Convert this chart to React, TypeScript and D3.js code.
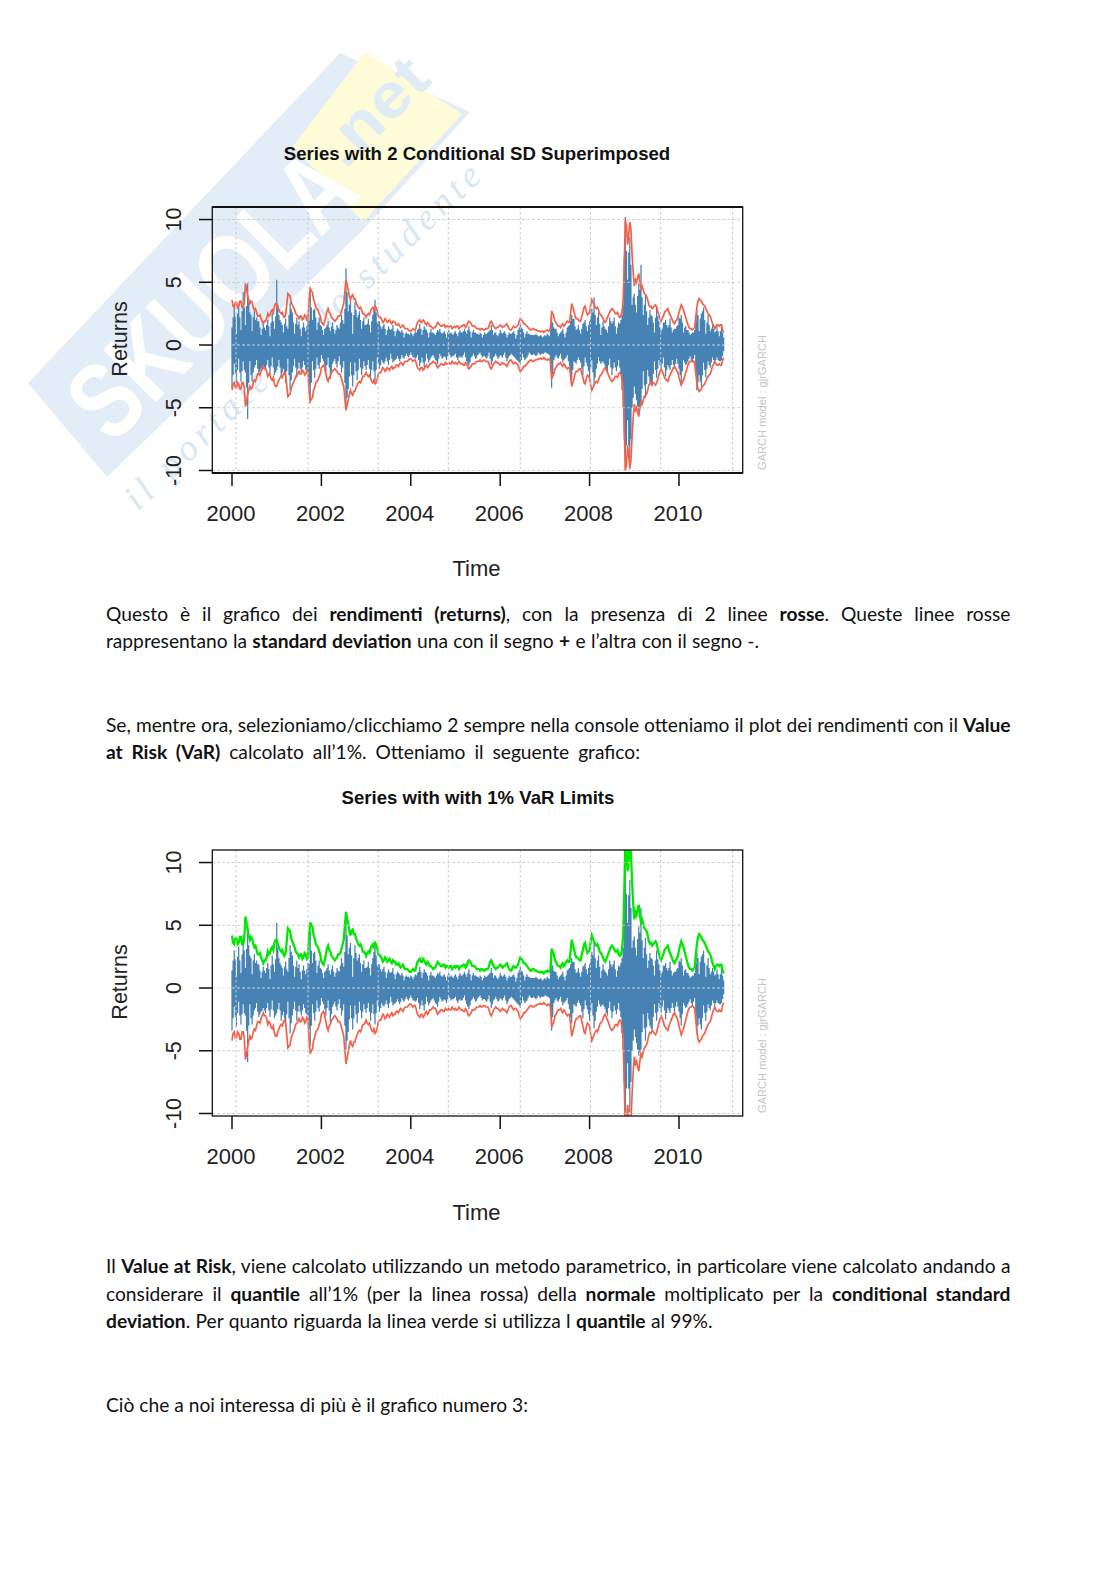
import React, { useLayoutEffect, useRef } from "react";
import * as d3 from "d3";

const startYear = 2000;
const stepPerYear = 40;

// upper band (2 conditional SD), 20 readings a year
const band2sd = [
  3.6,3.0,3.4,3.1,3.5,3.0,4.9,4.0,3.3,3.4,2.8,2.6,2.3,2.1,1.7,1.9,2.5,2.4,2.8,3.1,
  3.3,2.8,2.5,2.3,2.4,4.1,3.9,3.2,2.8,2.4,2.1,2.3,2.1,2.3,2.1,4.5,4.2,3.4,2.9,2.5,
  1.8,1.6,2.3,2.9,2.5,2.1,1.9,2.1,2.3,2.7,3.3,5.2,4.4,3.6,4.0,3.7,3.2,2.9,2.8,2.5,
  2.2,2.5,2.7,3.0,3.1,2.7,2.2,2.0,1.9,2.0,1.9,1.8,1.9,1.8,1.6,1.5,1.5,1.4,1.3,1.2,
  1.1,1.3,1.2,1.8,2.0,1.8,1.9,1.6,1.7,1.5,1.3,1.4,1.8,1.6,1.5,1.6,1.5,1.4,1.5,1.4,
  1.4,1.5,1.4,1.5,1.6,1.5,1.9,1.7,1.5,1.4,1.3,1.2,1.3,1.2,1.3,1.5,1.9,1.5,1.3,1.4,
  1.6,1.4,1.5,1.7,1.3,1.2,1.5,1.4,1.6,2.1,1.9,1.7,1.5,1.3,1.2,1.3,1.2,1.1,1.05,1.1,
  1.1,1.2,1.15,2.7,2.3,1.8,1.5,1.4,1.7,1.6,1.9,1.8,3.3,2.7,2.1,2.0,1.9,2.6,3.1,2.4,
  2.6,3.6,3.2,2.9,2.8,2.4,2.1,1.8,2.2,2.6,2.9,2.7,2.5,2.3,2.3,3.5,10,8,9.8,7.3,
  4.7,5.0,5.7,4.5,4.4,4.0,3.6,3.05,2.9,3.1,3.05,2.4,1.9,2.3,2.7,2.9,2.4,2.0,1.7,2.0,
  2.6,3.2,2.8,2.2,1.6,1.3,1.2,1.4,3.0,3.7,3.5,3.2,2.9,2.5,2.3,1.7,1.3,1.6,1.5,1.6,
  1.0,
];
// readings taken half a step after each of the above
const band2sdBetween = [
  3.1,3.4,3.0,3.5,3.0,3.4,4.5,3.6,3.5,3.0,2.9,2.3,2.4,1.9,1.9,2.1,2.3,2.7,2.6,3.3,
  3.0,2.6,2.6,2.2,3.2,4.0,3.4,3.0,2.5,2.3,2.3,2.0,2.4,2.0,3.6,4.3,3.6,3.0,2.8,2.3,
  1.7,1.9,2.7,2.6,2.2,2.0,2.0,2.3,2.4,3.0,4.3,4.8,3.9,3.9,3.7,3.4,3.0,3.0,2.5,2.4,
  2.4,2.4,2.9,2.8,3.0,2.3,2.2,1.8,2.1,1.8,2.0,1.7,1.8,1.6,1.7,1.4,1.6,1.3,1.3,1.1,
  1.2,1.2,1.5,1.9,1.8,2.0,1.7,1.8,1.5,1.4,1.4,1.6,1.7,1.5,1.6,1.4,1.5,1.5,1.3,1.5,
  1.5,1.3,1.5,1.6,1.4,1.8,1.8,1.5,1.5,1.3,1.3,1.3,1.2,1.3,1.3,1.8,1.7,1.4,1.4,1.5,
  1.5,1.5,1.6,1.5,1.2,1.4,1.4,1.5,1.9,2.0,1.7,1.6,1.4,1.2,1.3,1.2,1.15,1.1,1.1,1.0,
  1.15,1.1,1.3,2.5,1.9,1.6,1.5,1.6,1.5,1.8,1.8,2.5,3.0,2.3,2.1,1.9,2.3,3.0,2.7,2.5,
  3.2,3.4,3.0,3.0,2.5,2.3,1.9,2.0,2.4,2.8,2.8,2.5,2.6,2.2,2.7,6.5,9.5,8.8,9.2,5.8,
  5.2,5.4,5.0,4.7,4.1,3.9,3.2,3.1,3.0,3.2,2.7,2.1,2.1,2.6,2.8,2.6,2.2,1.8,1.9,2.2,
  2.9,3.0,2.5,1.9,1.4,1.3,1.3,2.2,3.5,3.6,3.3,3.1,2.7,2.4,2.0,1.5,1.5,1.6,1.6,1.2,
];

// positive side of the returns
const returnsUp = [
  1.4,3.0,0.9,3.3,1.2,4.2,1.6,4.9,2.6,1.1,2.7,2.2,1.9,0.8,1.7,1.2,2.0,0.7,2.6,1.3,
  5.2,2.4,1.8,1.0,2.1,1.3,3.4,2.6,0.9,2.2,1.9,0.7,1.8,1.1,2.0,4.5,2.0,2.9,1.2,2.2,
  1.5,0.8,1.4,1.9,1.1,1.8,0.9,1.6,1.3,2.4,1.7,6.1,2.7,3.6,0.9,3.4,2.2,2.7,1.3,2.2,
  1.6,2.1,1.0,2.4,3.6,1.8,1.9,1.3,1.7,0.8,1.5,1.2,1.6,0.7,1.3,1.1,1.2,0.6,1.0,0.9,
  1.0,0.7,1.1,1.2,1.7,0.8,1.5,1.2,0.6,1.3,1.0,0.8,1.2,1.3,0.9,1.1,0.6,1.2,1.0,0.8,
  1.1,0.7,1.2,1.0,1.3,0.9,1.5,0.6,1.2,1.0,0.9,1.0,0.6,1.0,0.9,1.1,1.6,0.8,1.0,0.7,
  1.2,0.9,1.1,0.6,1.0,0.9,1.1,0.5,1.2,1.7,1.3,0.6,1.1,0.9,0.8,0.8,0.9,0.7,0.8,0.6,
  0.8,0.9,0.7,2.7,1.4,1.3,0.7,1.0,1.3,0.6,1.4,1.6,2.4,2.1,1.2,1.6,0.9,1.7,2.0,1.1,
  1.9,2.9,3.8,1.6,2.6,0.8,1.9,1.3,1.0,2.2,1.7,2.2,0.9,1.8,2.0,3.2,10.2,5.2,8.6,3.2,
  4.1,2.6,4.9,6.4,2.4,4.0,1.6,2.8,2.3,1.0,3.0,1.9,1.1,1.8,2.0,1.4,2.1,1.0,1.3,1.5,
  2.2,2.4,1.0,1.5,1.2,0.8,1.0,1.2,2.8,1.1,2.5,3.0,0.9,2.4,1.1,1.6,1.0,1.5,0.7,1.5,
  0.6,
];
const returnsUpBetween = [
  2.2,2.3,2.5,2.2,2.7,3.0,3.1,3.4,2.4,2.2,2.0,1.9,1.4,1.3,1.4,1.6,1.5,1.8,1.9,2.3,
  3.2,2.0,1.6,1.7,1.5,2.4,2.9,1.8,1.7,1.6,1.3,1.4,1.4,1.5,1.9,3.0,2.8,2.2,1.8,1.6,
  1.2,1.3,1.6,1.4,1.5,1.3,1.2,1.4,1.8,2.0,2.9,4.2,3.2,2.6,2.4,2.8,2.4,2.0,1.9,1.6,
  1.7,1.6,1.9,2.9,2.6,1.9,1.5,1.5,1.3,1.2,1.3,1.3,1.1,1.1,1.2,1.0,1.0,0.9,0.9,0.8,
  0.9,0.9,1.0,1.3,1.3,1.2,1.3,1.0,1.0,1.0,0.9,1.0,1.1,1.0,1.0,0.9,1.0,0.9,0.9,1.0,
  0.9,1.0,1.0,1.1,1.1,1.2,1.1,1.0,1.0,0.9,0.8,0.9,0.8,0.9,1.0,1.2,1.2,1.0,0.8,0.9,
  1.0,1.0,0.9,0.8,0.9,1.0,0.9,0.8,1.4,1.4,1.0,0.9,0.9,0.8,0.8,0.8,0.8,0.7,0.7,0.7,
  0.7,0.8,1.6,1.8,1.3,1.0,0.9,1.1,0.9,1.0,1.5,1.9,2.1,1.5,1.3,1.2,1.3,1.8,1.5,1.6,
  2.3,2.6,2.4,2.2,1.7,1.4,1.5,1.2,1.5,1.9,1.9,1.5,1.4,1.7,2.4,7.0,7.5,7.4,6.4,3.8,
  3.2,3.9,4.4,3.8,3.2,2.7,2.2,2.4,1.8,2.2,2.3,1.4,1.3,1.8,1.6,1.6,1.4,1.2,1.3,1.6,
  2.1,1.8,1.4,1.2,1.0,0.9,1.0,1.9,2.4,2.1,2.7,2.0,1.8,1.6,1.3,1.3,1.1,1.1,1.1,1.0,
];

// negative side of the returns, as magnitudes
const returnsDown = [
  3.4,1.5,3.1,1.1,2.9,1.3,2.2,5.9,1.3,2.9,1.8,1.2,2.3,1.9,1.6,2.0,1.2,2.3,1.0,2.4,
  2.0,1.2,2.6,1.9,3.0,1.1,3.6,2.2,1.1,2.6,1.4,2.2,1.3,2.0,2.2,4.6,1.3,2.6,1.0,1.9,
  0.8,1.3,2.2,1.0,2.7,1.5,1.1,1.8,0.9,2.2,1.3,4.9,3.5,1.4,3.3,1.4,2.8,1.1,2.4,1.3,
  2.0,1.2,2.6,1.3,2.9,1.0,1.9,1.2,1.5,1.0,1.6,0.7,1.4,1.2,0.9,1.3,0.8,1.1,0.7,1.0,
  0.6,1.0,1.1,0.8,1.7,1.0,1.8,0.7,1.4,1.0,0.8,1.2,1.5,0.7,1.1,0.9,1.2,0.6,1.0,0.9,
  0.7,1.2,0.9,1.0,0.6,1.3,1.7,1.0,0.7,1.1,0.8,0.6,1.0,0.9,1.1,0.6,1.6,1.0,0.7,1.1,
  0.8,1.0,0.6,1.3,0.9,0.7,0.9,1.1,1.3,1.6,0.7,1.2,1.0,0.6,0.8,0.7,0.9,0.6,0.8,0.7,
  0.6,0.7,0.8,3.4,1.2,0.8,1.1,0.7,1.4,1.1,0.8,1.7,2.8,1.3,1.5,1.0,1.4,2.4,1.0,1.7,
  2.6,1.2,3.2,1.9,1.0,1.5,1.3,1.7,2.2,1.1,2.4,1.4,2.1,1.2,2.3,5.0,9.9,6.0,9.9,5.0,
  3.3,4.4,5.4,4.9,2.1,4.2,2.0,3.0,3.3,1.3,2.6,1.2,2.0,1.0,2.5,1.6,2.0,1.2,1.9,1.1,
  1.9,3.0,1.2,1.6,1.3,0.9,1.4,0.8,3.6,2.4,3.3,1.4,2.6,1.3,1.8,1.0,1.4,1.0,1.3,1.2,
  0.5,
];
const returnsDownBetween = [
  2.4,2.3,2.0,2.2,2.1,2.0,3.4,3.0,2.4,2.2,1.6,1.9,2.1,1.8,1.8,1.6,1.8,1.7,1.8,2.2,
  1.7,1.8,2.2,2.4,2.1,2.4,2.8,1.7,1.8,1.9,1.9,1.8,1.6,2.1,3.2,3.0,2.0,1.9,1.6,1.4,
  1.1,1.7,1.6,1.8,2.1,1.3,1.5,1.3,1.6,1.8,3.0,4.2,2.5,2.4,2.4,2.1,2.0,1.8,1.9,1.7,
  1.6,1.9,2.0,2.1,2.0,1.5,1.6,1.4,1.3,1.3,1.2,1.1,1.3,1.1,1.1,1.1,1.0,0.9,0.9,0.8,
  0.8,1.0,1.0,1.2,1.4,1.4,1.3,1.1,1.2,0.9,1.0,1.3,1.1,0.9,1.0,1.0,0.9,0.8,0.9,0.8,
  1.0,1.0,1.0,0.8,1.0,1.5,1.4,0.9,0.9,1.0,0.7,0.8,0.9,1.0,0.9,1.1,1.3,0.9,0.9,1.0,
  0.9,0.8,1.0,1.1,0.8,0.8,1.0,1.2,1.4,1.2,1.0,1.1,0.8,0.7,0.8,0.8,0.8,0.7,0.7,0.7,
  0.6,0.7,2.1,2.3,1.0,1.0,0.9,1.1,1.2,1.0,1.3,2.3,2.0,1.4,1.2,1.2,1.9,1.7,1.4,2.1,
  1.9,2.2,2.6,1.5,1.3,1.4,1.5,2.0,1.6,1.8,1.9,1.8,1.7,1.8,3.6,7.5,8.0,8.0,7.5,4.2,
  3.9,4.9,5.1,3.5,3.2,3.1,2.5,3.2,2.3,2.0,1.9,1.6,1.5,1.8,2.0,1.8,1.6,1.6,1.5,1.5,
  2.4,2.1,1.4,1.5,1.1,1.2,1.1,2.2,3.0,2.9,2.4,2.0,1.9,1.6,1.4,1.2,1.2,1.2,1.3,0.9,
];

const yTicks = [-10, -5, 0, 5, 10];
const xTicks = [2000, 2002, 2004, 2006, 2008, 2010];
const xGridYears = [2000.09, 2001.7, 2003.27, 2004.84, 2006.45, 2008.02, 2009.59, 2011.2];

const ratio99To2sd = 2.326 / 2;

type Run = { t: string; b?: boolean };
const bodyLines: { y: number; width: number; runs: Run[] }[] = [
  { y: 620.5, width: 904.5, runs: [{ t: "Questo è il grafico dei " }, { t: "rendimenti (returns)", b: true }, { t: ", con la presenza di 2 linee " }, { t: "rosse", b: true }, { t: ". Queste linee rosse" }] },
  { y: 647.5, width: 653, runs: [{ t: "rappresentano la " }, { t: "standard deviation", b: true }, { t: " una con il segno " }, { t: "+", b: true }, { t: " e l’altra con il segno -." }] },
  { y: 731.5, width: 904.5, runs: [{ t: "Se, mentre ora, selezioniamo/clicchiamo 2 sempre nella console otteniamo il plot dei rendimenti con il " }, { t: "Value", b: true }] },
  { y: 758.5, width: 534, runs: [{ t: "at Risk (VaR)", b: true }, { t: " calcolato all’1%. Otteniamo il seguente grafico:" }] },
  { y: 1273, width: 904.5, runs: [{ t: "Il " }, { t: "Value at Risk", b: true }, { t: ", viene calcolato utilizzando un metodo parametrico, in particolare viene calcolato andando a" }] },
  { y: 1300.5, width: 904.5, runs: [{ t: "considerare il " }, { t: "quantile", b: true }, { t: " all’1% (per la linea rossa) della " }, { t: "normale", b: true }, { t: " moltiplicato per la " }, { t: "conditional standard", b: true }] },
  { y: 1328, width: 606.5, runs: [{ t: "deviation", b: true }, { t: ". Per quanto riguarda la linea verde si utilizza l " }, { t: "quantile", b: true }, { t: " al 99%." }] },
  { y: 1412, width: 422, runs: [{ t: "Ciò che a noi interessa di più è il grafico numero 3:" }] },
];

const weave = (a: number[], b: number[]) => a.flatMap((v, i) => (i < b.length ? [v, b[i]] : [v]));
const bandSeries = weave(band2sd, band2sdBetween);
const upSeries = weave(returnsUp, returnsUpBetween);
const downSeries = weave(returnsDown, returnsDownBetween);

const yearOf = (i: number) => startYear + i / stepPerYear;
const helv = "'Liberation Sans', Arial, sans-serif";
const gridColor = "#c9c9c9";

function Panel(props: { id: string; top: number; bottom: number; title: string; titleX: number; titleY: number; timeY: number; heavy: boolean; var99: boolean }) {
  const { id, top, bottom, title, titleX, titleY, timeY, heavy, var99 } = props;
  const left = 212.3, right = 742.7;
  const x = d3.scaleLinear().domain([2000, 2010]).range([232, 679]);
  const y = d3.scaleLinear().domain([-10.2, 11]).range([bottom, top]);
  const k = var99 ? ratio99To2sd : 1;
  const upper = d3.line<number>().x((_, i) => x(yearOf(i))).y((d) => y(d * k));
  const lower = d3.line<number>().x((_, i) => x(yearOf(i))).y((d) => y(-d * k));
  const bars = upSeries.map((u, i) => `M${x(yearOf(i))},${y(u)}V${y(-downSeries[i])}`).join("");
  const midY = (top + bottom) / 2;
  return (
    <g>
      <defs>
        <clipPath id={id}><rect x={left} y={top} width={right - left} height={bottom - top} /></clipPath>
      </defs>
      <text x={titleX} y={titleY} textAnchor="middle" dominantBaseline="central" fontFamily={helv} fontWeight="bold" fontSize={18.6} fill="#111">{title}</text>
      <g clipPath={`url(#${id})`}>
        <path d={bars} stroke="steelblue" strokeWidth={1.25} fill="none" />
        <path d={upper(bandSeries) as string} stroke={var99 ? "#00e800" : "#f4614a"} strokeWidth={var99 ? 2.3 : 1.7} fill="none" />
        <path d={lower(bandSeries) as string} stroke="#f4614a" strokeWidth={1.7} fill="none" />
        {xGridYears.map((g) => (
          <line key={g} x1={x(g)} x2={x(g)} y1={top} y2={bottom} stroke={gridColor} strokeWidth={1} strokeDasharray="2.5 2.5" />
        ))}
        {yTicks.map((t) => (
          <line key={t} x1={left} x2={right} y1={y(t)} y2={y(t)} stroke={t === 0 ? "#dfe6ee" : gridColor} strokeWidth={1} strokeDasharray="2.5 2.5" />
        ))}
      </g>
      <rect x={left} y={top} width={right - left} height={bottom - top} fill="none" stroke="#111" strokeWidth={1.3} />
      {heavy && <line x1={left} x2={right} y1={top} y2={top} stroke="#111" strokeWidth={2.2} />}
      {heavy && <line x1={left} x2={right} y1={bottom} y2={bottom} stroke="#111" strokeWidth={2.2} />}
      {yTicks.map((t) => (
        <g key={t}>
          <line x1={199} x2={left} y1={y(t)} y2={y(t)} stroke="#111" strokeWidth={1.5} />
          <text transform={`translate(173.5,${y(t)}) rotate(-90)`} textAnchor="middle" dominantBaseline="central" fontFamily={helv} fontSize={21.5} fill="#222">{t}</text>
        </g>
      ))}
      {xTicks.map((t) => (
        <g key={t}>
          <line x1={x(t)} x2={x(t)} y1={bottom} y2={bottom + 13} stroke="#111" strokeWidth={1.5} />
          <text x={x(t) - 1} y={bottom + 40} textAnchor="middle" dominantBaseline="central" fontFamily={helv} fontSize={22} fill="#222">{t}</text>
        </g>
      ))}
      <text transform={`translate(119.5,${midY - 1}) rotate(-90)`} textAnchor="middle" dominantBaseline="central" fontFamily={helv} fontSize={21.5} fill="#222">Returns</text>
      <text x={476.5} y={timeY} textAnchor="middle" dominantBaseline="central" fontFamily={helv} fontSize={22} fill="#222">Time</text>
      <text transform={`translate(762,${bottom - 3}) rotate(-90)`} fontFamily={helv} fontSize={11.5} fill="#c4c4c4" dominantBaseline="central" textLength={135} lengthAdjust="spacingAndGlyphs">GARCH model : gjrGARCH</text>
    </g>
  );
}

function Watermark() {
  return (
    <g>
      <polygon points="28,383 340,53 470,112 363,230 107,477" fill="#e2edf7" />
      <polygon points="365,52 462,114 363,222 293,146" fill="#fdfbd8" />
      <g transform="translate(112,446) rotate(-45)">
        <text fontFamily={helv} fontWeight="bold" fontSize={108} fill="#ffffff" textLength={355} lengthAdjust="spacingAndGlyphs">SKUOLA</text>
      </g>
      <g transform="translate(345,170) rotate(-45)">
        <text fontFamily={helv} fontWeight="bold" fontSize={62} fill="#dfecf6" textLength={125} lengthAdjust="spacingAndGlyphs">.net</text>
      </g>
      <g transform="translate(138,512) rotate(-44)">
        <text fontFamily="'Liberation Serif', serif" fontStyle="italic" fontSize={37} fill="#d8e7f4" textLength={480}>il portale dello studente</text>
      </g>
    </g>
  );
}

export default function App() {
  const ref = useRef<SVGGElement>(null);
  useLayoutEffect(() => {
    const g = d3.select(ref.current);
    g.selectAll<SVGTextElement, unknown>("text").each(function () {
      const target = Number(this.getAttribute("data-width"));
      const content = this.textContent || "";
      const spaces = (content.match(/ /g) || []).length;
      this.style.wordSpacing = `${(target - this.getComputedTextLength()) / spaces}px`;
    });
  }, []);
  return (
    <svg width={1116} height={1579} style={{ position: "absolute", left: 0, top: 0, background: "#fff" }}>
      <Watermark />
      <Panel id="p1" top={207} bottom={473} title="Series with 2 Conditional SD Superimposed" titleX={477} titleY={153} timeY={568} heavy={true} var99={false} />
      <Panel id="p2" top={850} bottom={1116} title="Series with with 1% VaR Limits" titleX={478} titleY={797} timeY={1212} heavy={false} var99={true} />
      <g ref={ref}>
        {bodyLines.map((l) => (
          <text key={l.y} x={106} y={l.y} data-width={l.width} fontFamily="Lato, sans-serif" fontSize={19.2} fill="#111" xmlSpace="preserve" style={{ whiteSpace: "pre" }}>
            {l.runs.map((r, i) => (
              <tspan key={i} fontWeight={r.b ? "bold" : "normal"}>{r.t}</tspan>
            ))}
          </text>
        ))}
      </g>
    </svg>
  );
}
